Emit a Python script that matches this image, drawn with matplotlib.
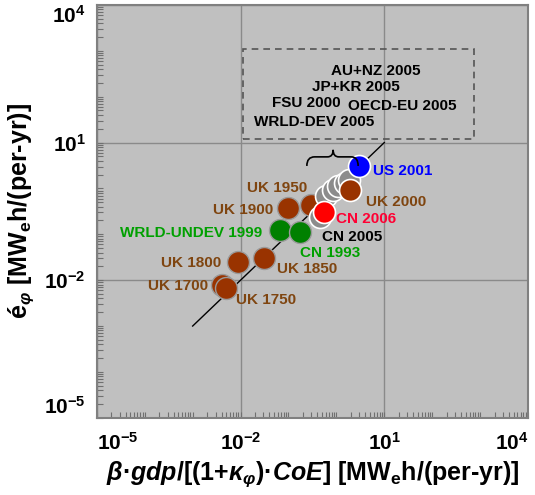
import numpy as np
import matplotlib
matplotlib.use('Agg')
import matplotlib.pyplot as plt
from matplotlib.path import Path
from matplotlib.patches import PathPatch, Rectangle
from matplotlib.ticker import FixedLocator, LogLocator, FuncFormatter, NullFormatter

plt.rcParams['font.family'] = ['Liberation Sans', 'DejaVu Sans']
plt.rcParams['font.weight'] = 'bold'
plt.rcParams['axes.unicode_minus'] = False
plt.rcParams['mathtext.fontset'] = 'custom'
plt.rcParams['mathtext.rm'] = 'Liberation Sans:bold'
plt.rcParams['mathtext.it'] = 'Liberation Sans:italic:bold'
plt.rcParams['mathtext.bf'] = 'Liberation Sans:bold'
plt.rcParams['mathtext.sf'] = 'Liberation Sans:bold'

# UK history points
uk_labels = ['UK 1700', 'UK 1750', 'UK 1800', 'UK 1850', 'UK 1900', 'UK 1950']
uk_x = [0.0041, 0.0050, 0.0089, 0.031, 0.10, 0.29]
uk_y = [0.0079, 0.0068, 0.025, 0.030, 0.38, 0.44]

# developing regions (green)
green_labels = ['WRLD-UNDEV 1999', 'CN 1993']
green_x = [0.068, 0.17]
green_y = [0.126, 0.112]

# grey cluster (labels in dashed box)
grey_labels = ['WRLD-DEV 2005', 'FSU 2000', 'JP+KR 2005', 'AU+NZ 2005', 'OECD-EU 2005']
grey_x = [0.62, 0.83, 1.1, 1.48, 1.87]
grey_y = [0.69, 0.93, 1.15, 1.3, 1.55]

# single points
cn2005_x, cn2005_y = 0.46, 0.24
uk2000_x, uk2000_y = 1.95, 0.93
cn2006_x, cn2006_y = 0.54, 0.31
us_x, us_y = 3.0, 3.1

# fit line y = x
fit_x = [1e-3, 1e1]
fit_y = [1e-3, 1e1]

major_ticks = [1e-5, 1e-2, 1e1, 1e4]

brown = '#993300'
brown_txt = '#7f4510'
green = '#008000'
green_txt = '#00a000'
grey = '#8c8c8c'

fig = plt.figure(figsize=(5.35, 4.95), dpi=100)
ax = fig.add_axes([0.181, 0.156, 0.806, 0.834])
ax.set_facecolor('#c0c0c0')
ax.set_xscale('log')
ax.set_yscale('log')
ax.set_xlim(1e-5, 1e4)
ax.set_ylim(1e-5, 1e4)

ax.plot(fit_x, fit_y, color='black', lw=1, zorder=2)

ms = 250
ax.scatter(uk_x, uk_y, s=ms, color=brown, edgecolor='#9a9a9a', lw=1, zorder=3)
ax.scatter(green_x, green_y, s=ms, color=green, edgecolor='#9a9a9a', lw=1, zorder=3)
ax.scatter(grey_x, grey_y, s=ms, color=grey, edgecolor='white', lw=1.2, zorder=4)
ax.scatter([cn2005_x], [cn2005_y], s=ms, color=grey, edgecolor='white', lw=1.2, zorder=4)
ax.scatter([uk2000_x], [uk2000_y], s=ms, color=brown, edgecolor='white', lw=1.2, zorder=5)
ax.scatter([cn2006_x], [cn2006_y], s=ms, color='#ff0000', edgecolor='white', lw=1.2, zorder=6)
ax.scatter([us_x], [us_y], s=ms, color='#0000ff', edgecolor='white', lw=1.2, zorder=6)

fs = 11
def lab(txt, x, y, dx, dy, c):
    ax.annotate(txt, (x, y), xytext=(dx, dy), textcoords='offset pixels',
                ha='center', va='center', fontsize=fs, fontweight='bold', color=c, zorder=7)

uk_off = [(-44, -1), (40, -12), (-47, -1), (43, -11), (-45, -2), (-34, 17)]
for t, x, y, o in zip(uk_labels, uk_x, uk_y, uk_off):
    lab(t, x, y, o[0], o[1], brown_txt)
green_off = [(-89, -3), (31, -21)]
for t, x, y, o in zip(green_labels, green_x, green_y, green_off):
    lab(t, x, y, o[0], o[1], green_txt)
grey_off = [(-12, 74), (-26, 87), (17, 99), (31, 112), (53, 74)]
for t, x, y, o in zip(grey_labels, grey_x, grey_y, grey_off):
    lab(t, x, y, o[0], o[1], 'black')
lab('CN 2005', cn2005_x, cn2005_y, 32, -20, 'black')
lab('UK 2000', uk2000_x, uk2000_y, 46, -12, brown_txt)
lab('CN 2006', cn2006_x, cn2006_y, 42, -7, '#ff0033')
lab('US 2001', us_x, us_y, 43, -5, '#0000ff')

# dashed box round the grey labels
ax.add_patch(Rectangle((0.339, 0.676), 0.536, 0.217, transform=ax.transAxes,
                       fill=False, ls=(0, (4, 3)), ec='#555555', lw=1.2, zorder=6))

# curly brace
verts = [(0.487, 0.610), (0.487, 0.632), (0.505, 0.632), (0.535, 0.632),
         (0.548, 0.632), (0.548, 0.649), (0.548, 0.632), (0.561, 0.632),
         (0.590, 0.632), (0.606, 0.632), (0.606, 0.610)]
codes = [Path.MOVETO, Path.CURVE3, Path.CURVE3, Path.LINETO,
         Path.CURVE3, Path.CURVE3, Path.CURVE3, Path.CURVE3,
         Path.LINETO, Path.CURVE3, Path.CURVE3]
ax.add_patch(PathPatch(Path(verts, codes), transform=ax.transAxes,
                       fill=False, lw=1.2, ec='black', zorder=6))

# axes styling
for a in (ax.xaxis, ax.yaxis):
    a.set_major_locator(FixedLocator(major_ticks))
    a.set_minor_locator(LogLocator(base=10, subs=np.arange(1, 10), numticks=100))
    a.set_major_formatter(FuncFormatter(lambda v, p: r'$10^{%d}$' % round(np.log10(v))))
    a.set_minor_formatter(NullFormatter())
ax.tick_params(which='both', direction='in', color='#707070', width=0.8)
ax.tick_params(which='minor', length=4)
ax.tick_params(which='major', length=4, labelsize=15)
ax.tick_params(axis='x', which='major', pad=10)
ax.tick_params(axis='y', which='major', pad=8)
ax.grid(True, which='major', color='#8a8a8a', lw=1)
ax.set_axisbelow(True)
for sp in ax.spines.values():
    sp.set_color('#808080')
    sp.set_linewidth(1.5)

ax.set_xlabel(r'$\mathit{β{·}gdp}\mathrm{/}\mathit{[(1{+}κ_{φ}){·}CoE]}$ [MW$_\mathrm{e}$h/(per-yr)]',
              fontsize=18, fontweight='bold', labelpad=4)
ax.set_ylabel(r'é$_{φ}$ [MW$_\mathrm{e}$h/(per-yr)]', fontsize=18, fontweight='bold', labelpad=6)

# keep the end tick labels inside the frame, as in the original
fig.canvas.draw()
xl = ax.get_xticklabels()
xl[0].set_ha('left')
xl[0].set_x(0)
xl[-1].set_ha('right')
yl = ax.get_yticklabels()
yl[0].set_va('bottom')
yl[-1].set_va('top')

fig.savefig('out.png', dpi=100)
